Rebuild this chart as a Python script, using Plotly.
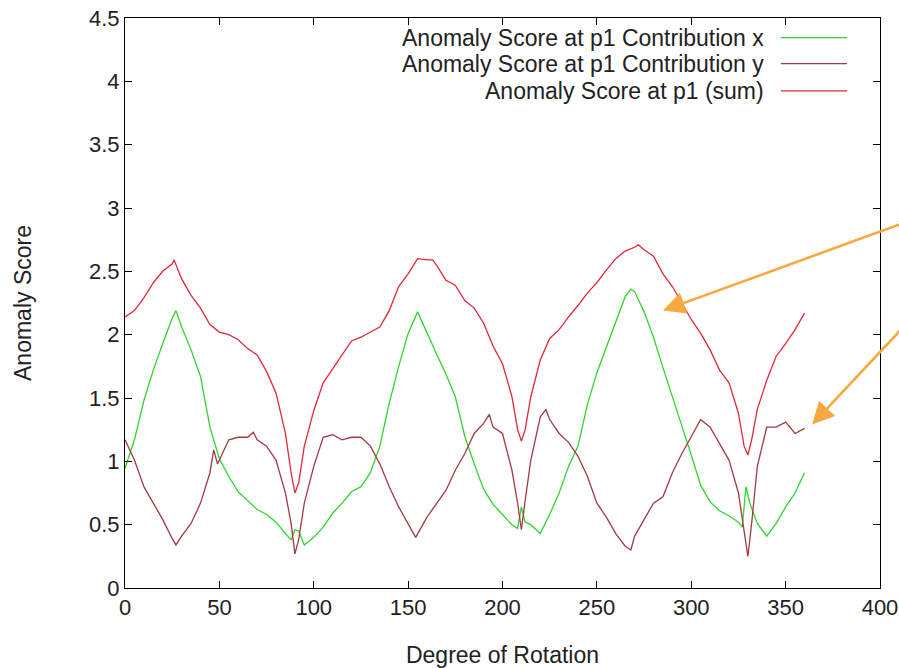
import plotly.graph_objects as go

# ---------------- data ----------------
series_names = [
    "Anomaly Score at p1 Contribution x",
    "Anomaly Score at p1 Contribution y",
    "Anomaly Score at p1 (sum)",
]

x_deg = [0, 5, 10, 15, 20, 25, 27, 30, 35, 40, 45, 50, 55, 60, 65, 70, 75, 80, 85, 88,
         90, 92, 95, 100, 105, 110, 115, 120, 125, 130, 135, 140, 145, 150, 155, 160,
         165, 170, 175, 180, 185, 190, 195, 200, 205, 208, 210, 212, 215, 220, 225, 230,
         235, 240, 245, 250, 255, 260, 265, 268, 270, 275, 280, 285, 290, 295, 300, 305,
         310, 315, 320, 325, 327, 329, 331, 335, 340, 345, 350, 355, 360]
x_val = [0.945, 1.17, 1.48, 1.72, 1.93, 2.13, 2.19, 2.06, 1.88, 1.67, 1.27, 1.02, 0.88,
         0.76, 0.69, 0.62, 0.58, 0.52, 0.43, 0.38, 0.46, 0.45, 0.34, 0.40, 0.48, 0.59,
         0.67, 0.76, 0.80, 0.91, 1.12, 1.46, 1.75, 2.01, 2.18, 2.01, 1.85, 1.69, 1.51,
         1.20, 0.98, 0.78, 0.66, 0.58, 0.50, 0.47, 0.64, 0.52, 0.50, 0.43, 0.58, 0.75,
         0.96, 1.12, 1.45, 1.70, 1.90, 2.10, 2.30, 2.36, 2.34, 2.18, 1.98, 1.74, 1.50,
         1.28, 1.05, 0.81, 0.68, 0.61, 0.57, 0.52, 0.48, 0.80, 0.67, 0.51, 0.41, 0.51,
         0.64, 0.75, 0.91]

y_deg = [0, 5, 10, 15, 20, 25, 27, 30, 35, 40, 45, 47, 49, 50, 55, 60, 65, 68, 70, 75,
         80, 85, 88, 90, 92, 95, 100, 105, 110, 115, 120, 125, 130, 135, 140, 145, 150,
         154, 160, 165, 170, 175, 180, 185, 190, 193, 195, 200, 205, 208, 210, 212, 215,
         220, 223, 225, 230, 235, 240, 245, 250, 255, 260, 265, 268, 270, 275, 280, 285,
         290, 295, 300, 305, 310, 315, 320, 325, 328, 330, 332, 335, 340, 345, 350, 355,
         360]
y_val = [1.17, 1.01, 0.80, 0.67, 0.54, 0.39, 0.34, 0.41, 0.51, 0.67, 0.91, 1.09, 0.98,
         1.01, 1.17, 1.19, 1.19, 1.23, 1.17, 1.12, 1.01, 0.75, 0.51, 0.27, 0.38, 0.67,
         0.96, 1.19, 1.21, 1.17, 1.19, 1.19, 1.12, 0.98, 0.80, 0.64, 0.51, 0.40, 0.56,
         0.67, 0.77, 0.93, 1.06, 1.22, 1.30, 1.37, 1.27, 1.22, 0.93, 0.67, 0.46, 0.69,
         1.01, 1.35, 1.41, 1.33, 1.22, 1.15, 1.04, 0.88, 0.67, 0.56, 0.43, 0.33, 0.30,
         0.41, 0.54, 0.67, 0.72, 0.91, 1.06, 1.19, 1.33, 1.27, 1.14, 1.01, 0.75, 0.43,
         0.25, 0.51, 0.96, 1.27, 1.27, 1.31, 1.22, 1.26]

sum_deg = [0, 5, 10, 15, 20, 25, 26, 30, 35, 40, 45, 50, 55, 60, 65, 70, 75, 80, 85, 88,
           90, 92, 95, 100, 105, 110, 115, 120, 125, 130, 135, 140, 145, 150, 155, 160,
           163, 165, 170, 175, 180, 185, 190, 195, 200, 205, 208, 210, 212, 215, 220, 225,
           230, 235, 240, 245, 250, 255, 260, 265, 270, 272, 275, 280, 285, 290, 295, 300,
           305, 310, 315, 320, 325, 328, 330, 332, 335, 340, 345, 350, 355, 360]
sum_val = [2.14, 2.19, 2.29, 2.41, 2.50, 2.56, 2.59, 2.44, 2.31, 2.21, 2.08, 2.02, 2.00,
           1.96, 1.89, 1.84, 1.71, 1.54, 1.22, 0.91, 0.75, 0.83, 1.12, 1.40, 1.62, 1.73,
           1.84, 1.95, 1.98, 2.02, 2.06, 2.19, 2.38, 2.48, 2.60, 2.59, 2.59, 2.55, 2.43,
           2.39, 2.27, 2.21, 2.09, 1.91, 1.77, 1.51, 1.25, 1.16, 1.25, 1.51, 1.80, 1.97,
           2.04, 2.14, 2.23, 2.33, 2.41, 2.51, 2.60, 2.66, 2.69, 2.71, 2.67, 2.62, 2.48,
           2.38, 2.25, 2.12, 2.01, 1.88, 1.72, 1.62, 1.38, 1.12, 1.05, 1.17, 1.41, 1.64,
           1.83, 1.93, 2.04, 2.17]

x_ticks = [0, 50, 100, 150, 200, 250, 300, 350, 400]
y_ticks = [0, 0.5, 1, 1.5, 2, 2.5, 3, 3.5, 4, 4.5]

# ---------------- styling ----------------
colors = ["#2fd42f", "#a23a44", "#e0283a"]
FONT = "Liberation Sans, Arial, sans-serif"
FS = 23        # key and axis titles
FS_TICK = 22   # tick labels (keeps the "400" label inside the page)
TXT = "#222222"

fig = go.Figure()
for xs, ys, name, col in [(x_deg, x_val, series_names[0], colors[0]),
                          (y_deg, y_val, series_names[1], colors[1]),
                          (sum_deg, sum_val, series_names[2], colors[2])]:
    fig.add_trace(go.Scatter(x=xs, y=ys, mode="lines", name=name,
                             line=dict(color=col, width=1.3), showlegend=False))

# gnuplot-style key: right-aligned text, sample line on its right
key_rows = [4.345, 4.14, 3.925]
for name, col, yk in zip(series_names, colors, key_rows):
    fig.add_annotation(x=339.5, y=yk, xref="x", yref="y", text=name, showarrow=False,
                       xanchor="right", yanchor="middle",
                       font=dict(family=FONT, size=FS, color=TXT))
    fig.add_shape(type="line", xref="x", yref="y", x0=347.5, x1=382.5, y0=yk, y1=yk,
                  line=dict(color=col, width=1.3))

# orange pointer arrows
arrow_color = "#f7a840"
for tip, tail in [((285.0, 2.19), (412.7, 2.883)), ((364.0, 1.29), (412.7, 2.065))]:
    fig.add_annotation(x=tip[0], y=tip[1], ax=tail[0], ay=tail[1], xref="x", yref="y",
                       axref="x", ayref="y", showarrow=True, text="",
                       arrowhead=2, arrowsize=1.7, arrowwidth=2.6,
                       arrowcolor=arrow_color, standoff=0)

axis_common = dict(showgrid=False, zeroline=False, showline=True, linecolor="black",
                   linewidth=1, mirror="ticks", ticks="inside", ticklen=7,
                   tickcolor="black", tickwidth=1, automargin=False,
                   tickfont=dict(family=FONT, size=FS_TICK, color=TXT))

fig.update_xaxes(range=[0, 400], tickvals=x_ticks, **axis_common,
                 title=dict(text="Degree of Rotation", standoff=28,
                            font=dict(family=FONT, size=FS, color=TXT)))
fig.update_yaxes(range=[0, 4.5], tickvals=y_ticks, **axis_common,
                 title=dict(text="Anomaly Score", standoff=50,
                            font=dict(family=FONT, size=FS, color=TXT)))

fig.update_layout(width=899, height=668, paper_bgcolor="white", plot_bgcolor="white",
                  margin=dict(l=125, r=19, t=18, b=80),
                  font=dict(family=FONT, size=FS))

fig.write_html("out.html",
               config={"displayModeBar": False},
               post_script="document.body.style.margin='0';"
                           "document.body.style.overflow='hidden';")
